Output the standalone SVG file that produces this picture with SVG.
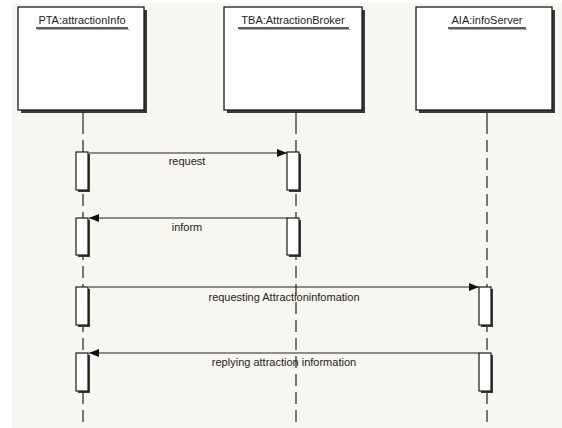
<svg xmlns="http://www.w3.org/2000/svg" width="562" height="428" viewBox="0 0 562 428">
  <style>
    .obj { fill: #ffffff; stroke: #1a1a1a; stroke-width: 1.3; }
    .shadow { fill: #3a3a3a; }
    .title { font-family: "Liberation Sans", Arial, sans-serif; font-size: 11px; fill: #1e1e1e; text-anchor: middle; }
    .uline { stroke: #2a2a2a; stroke-width: 1.4; }
    .uline-sh { stroke: #a8a8a8; stroke-width: 1.2; }
    .life { stroke: #333333; stroke-width: 1.3; stroke-dasharray: 12 6; fill: none; }
    .life-solid { stroke: #333333; stroke-width: 1.3; }
    .bar { fill: #ffffff; stroke: #1a1a1a; stroke-width: 1.2; }
    .msg { stroke: #222222; stroke-width: 1.1; fill: none; marker-end: url(#head); }
    .label { font-family: "Liberation Sans", Arial, sans-serif; font-size: 11px; fill: #222222; text-anchor: middle; }
  </style>
  <defs>
    <marker id="head" viewBox="0 0 10 8" refX="10" refY="4" markerWidth="10" markerHeight="8" markerUnits="userSpaceOnUse" orient="auto">
      <path d="M0,0 L10,4 L0,8 Z" fill="#111111"/>
    </marker>
  </defs>

  <!-- canvas -->
  <rect x="0" y="0" width="562" height="428" fill="#ffffff"/>
  <rect x="12" y="3" width="550" height="425" fill="#f8f6f0"/>

  <!-- lifelines -->
  <g id="lifelines">
    <line class="life-solid" x1="83" y1="110" x2="83" y2="122"/>
    <line class="life" x1="83" y1="122" x2="83" y2="428"/>
    <line class="life-solid" x1="296" y1="110" x2="296" y2="122"/>
    <line class="life" x1="296" y1="122" x2="296" y2="428"/>
    <line class="life-solid" x1="487" y1="110" x2="487" y2="122"/>
    <line class="life" x1="487" y1="122" x2="487" y2="428"/>
  </g>

  <!-- object PTA -->
  <g id="pta">
    <rect class="shadow" x="21" y="10" width="126" height="103"/>
    <rect class="obj" x="18" y="7" width="126" height="103"/>
    <line class="uline-sh" x1="37" y1="29.5" x2="129" y2="29.5"/>
    <line class="uline" x1="36" y1="28" x2="128" y2="28"/>
    <text class="title" x="82" y="24">PTA:attractionInfo</text>
  </g>

  <!-- object TBA -->
  <g id="tba">
    <rect class="shadow" x="227" y="10" width="138" height="103"/>
    <rect class="obj" x="224" y="7" width="138" height="103"/>
    <line class="uline-sh" x1="239" y1="29.5" x2="350" y2="29.5"/>
    <line class="uline" x1="238" y1="28" x2="349" y2="28"/>
    <text class="title" x="293" y="24">TBA:AttractionBroker</text>
  </g>

  <!-- object AIA -->
  <g id="aia">
    <rect class="shadow" x="419" y="10" width="136" height="103"/>
    <rect class="obj" x="416" y="7" width="136" height="103"/>
    <line class="uline-sh" x1="449" y1="29.5" x2="527" y2="29.5"/>
    <line class="uline" x1="448" y1="28" x2="526" y2="28"/>
    <text class="title" x="487" y="24">AIA:infoServer</text>
  </g>

  <!-- activations -->
  <g id="activations">
    <rect class="shadow" x="78" y="154" width="12" height="38"/>
    <rect class="bar" x="76" y="152" width="12" height="38"/>
    <rect class="shadow" x="289" y="154" width="12" height="38"/>
    <rect class="bar" x="287" y="152" width="12" height="38"/>

    <rect class="shadow" x="78" y="220" width="12" height="37"/>
    <rect class="bar" x="76" y="218" width="12" height="37"/>
    <rect class="shadow" x="289" y="220" width="12" height="37"/>
    <rect class="bar" x="287" y="218" width="12" height="37"/>

    <rect class="shadow" x="78" y="289" width="12" height="38"/>
    <rect class="bar" x="76" y="287" width="12" height="38"/>
    <rect class="shadow" x="481" y="289" width="12" height="38"/>
    <rect class="bar" x="479" y="287" width="12" height="38"/>

    <rect class="shadow" x="78" y="355" width="12" height="38"/>
    <rect class="bar" x="76" y="353" width="12" height="38"/>
    <rect class="shadow" x="481" y="355" width="12" height="38"/>
    <rect class="bar" x="479" y="353" width="12" height="38"/>
  </g>

  <!-- messages -->
  <g id="messages">
    <line class="msg" x1="89" y1="153" x2="287" y2="153"/>
    <text class="label" x="187" y="165">request</text>

    <line class="msg" x1="287" y1="218" x2="89" y2="218"/>
    <text class="label" x="187" y="231">inform</text>

    <line class="msg" x1="89" y1="287" x2="479" y2="287"/>
    <text class="label" x="284" y="301">requesting Attractioninfomation</text>

    <line class="msg" x1="479" y1="353" x2="89" y2="353"/>
    <text class="label" x="284" y="366">replying attraction information</text>
  </g>
</svg>
